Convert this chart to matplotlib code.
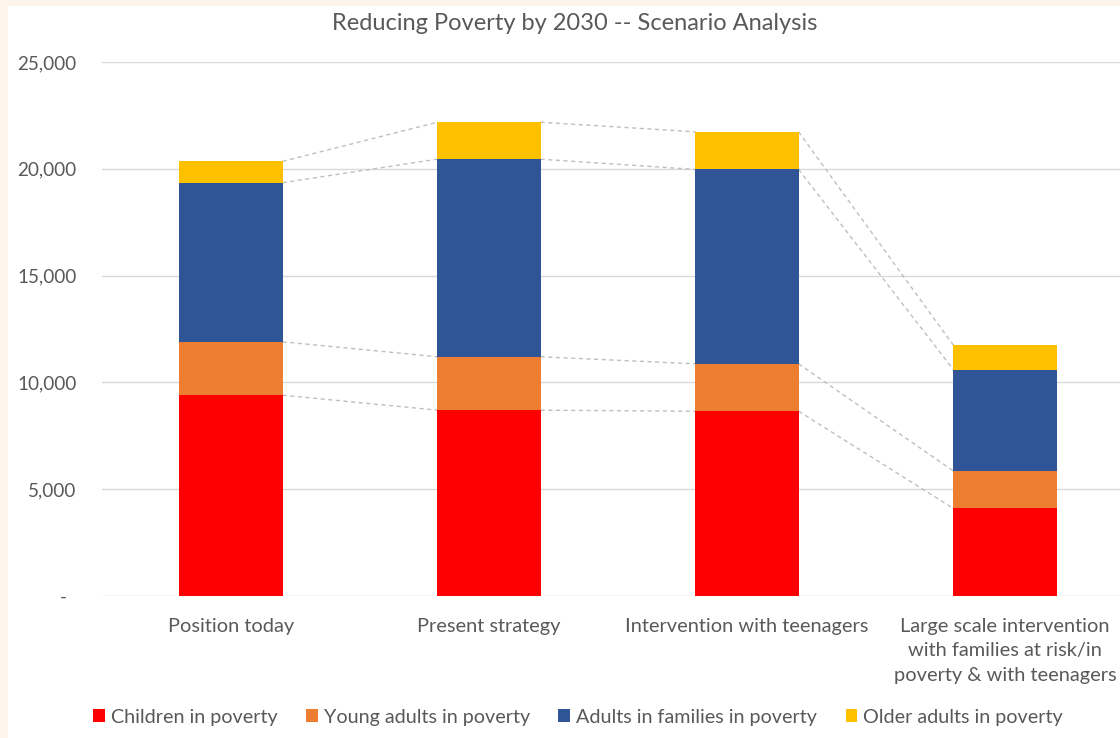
import matplotlib.pyplot as plt
import matplotlib.ticker as ticker
from matplotlib.patches import Rectangle
import numpy as np

categories = [
    "Position today",
    "Present strategy",
    "Intervention with teenagers",
    "Large scale intervention\nwith families at risk/in\npoverty & with teenagers",
]
series_names = [
    "Children in poverty",
    "Young adults in poverty",
    "Adults in families in poverty",
    "Older adults in poverty",
]
children = [9400, 8700, 8650, 4100]
young_adults = [2500, 2500, 2220, 1750]
adults_families = [7450, 9250, 9100, 4750]
older_adults = [1000, 1730, 1760, 1140]

colors = ["#FF0000", "#ED7D31", "#2F5597", "#FFC000"]
text_grey = "#595959"
font = ["Lato", "DejaVu Sans"]

W, H = 1120, 738
fig = plt.figure(figsize=(W / 100, H / 100), dpi=100)
fig.patch.set_facecolor("#FDF5EA")
fig.add_artist(Rectangle((8 / W, 0), 1, 1 - 6 / H, transform=fig.transFigure,
                         facecolor="white", edgecolor="none", zorder=0))

ax = fig.add_axes([102 / W, 142 / H, 1018 / W, 534 / H])
ax.set_facecolor("none")

x = np.arange(len(categories))
width = 0.4
bottom = np.zeros(len(categories))
tops = []
for name, vals, col in zip(series_names,
                           [children, young_adults, adults_families, older_adults],
                           colors):
    ax.bar(x, vals, width, bottom=bottom, color=col, label=name, zorder=3)
    bottom = bottom + np.array(vals)
    tops.append(bottom.copy())

# series lines between neighbouring bars
for level in tops:
    for i in range(len(categories) - 1):
        ax.plot([x[i] + width / 2, x[i + 1] - width / 2],
                [level[i], level[i + 1]],
                color="#BFBFBF", lw=1.0, ls=(0, (3, 2.5)), zorder=2)

ax.set_xlim(-0.5, -0.5 + 1018 / 258)
ax.set_ylim(0, 25000)
ax.set_yticks(np.arange(0, 25001, 5000))
ax.yaxis.set_major_formatter(ticker.FuncFormatter(
    lambda v, p: "-  " if v == 0 else "{:,.0f}".format(v)))
ax.yaxis.grid(True, color="#D9D9D9", lw=1.0, zorder=0)
ax.set_xticks(x)
ax.set_xticklabels(categories, linespacing=1.55, va="top")
ax.tick_params(axis="y", length=0, pad=18.5, labelsize=13.6, labelcolor=text_grey)
ax.tick_params(axis="x", length=0, pad=15.5, labelsize=14.4, labelcolor=text_grey)
for lbl in ax.get_xticklabels() + ax.get_yticklabels():
    lbl.set_family(font)
for s in ax.spines.values():
    s.set_visible(False)

fig.text(575 / W, 1 - 24 / H, "Reducing Poverty by 2030 -- Scenario Analysis",
         ha="center", va="center", fontsize=17, color=text_grey, family=font)

leg = fig.legend(loc="center", bbox_to_anchor=(578 / W, 1 - 717 / H), ncol=4,
                 frameon=False, handlelength=0.6, handleheight=0.6,
                 handletextpad=0.3, columnspacing=1.45,
                 prop={"family": font, "size": 14.2})
for t in leg.get_texts():
    t.set_color(text_grey)

fig.savefig("out.png", dpi=100)
